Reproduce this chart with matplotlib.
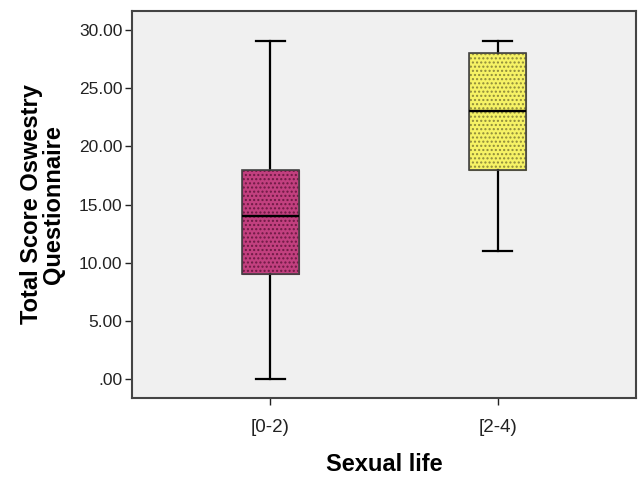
import matplotlib
matplotlib.use("Agg")
import matplotlib.pyplot as plt
from matplotlib.ticker import FuncFormatter

# box summaries
groups = ["[0-2)", "[2-4)"]
whislo = [0, 11]
q1 = [9, 18]
med = [14, 23]
q3 = [18, 28]
whishi = [29, 29]

face_colors = ["#C2407F", "#F6F265"]
dot_colors = ["#6E1A44", "#8E8A3A"]

stats = []
for i, g in enumerate(groups):
    stats.append({"label": g, "whislo": whislo[i], "q1": q1[i], "med": med[i],
                  "q3": q3[i], "whishi": whishi[i], "fliers": []})

plt.rcParams["font.family"] = ["Liberation Sans", "DejaVu Sans"]
fig = plt.figure(figsize=(6.41, 4.8), dpi=100)
ax = fig.add_axes([132 / 641, 1 - 398 / 480, 504 / 641, 387 / 480])
ax.set_facecolor("#F0F0F0")

pos = list(range(len(groups)))

# filled + dotted boxes
bp = ax.bxp(stats, positions=pos, widths=0.255, patch_artist=True, showfliers=False,
            boxprops=dict(linewidth=0.8),
            whiskerprops=dict(color="black", linewidth=1.6),
            capprops=dict(color="black", linewidth=1.6),
            medianprops=dict(color="black", linewidth=1.7),
            capwidths=0.13)
for box, fc, dc in zip(bp["boxes"], face_colors, dot_colors):
    box.set_facecolor(fc)
    box.set_edgecolor(dc)
    box.set_hatch("....")
    box.set_zorder(2)

# outline on top
for i in pos:
    ax.add_patch(plt.Rectangle((i - 0.1275, q1[i]), 0.255, q3[i] - q1[i],
                               fill=False, edgecolor="#444444", linewidth=1.2, zorder=3))
for m in bp["medians"]:
    m.set_zorder(4)

ax.set_xlim(-0.61, 1.61)
ax.set_ylim(-1.6, 31.6)
ax.set_yticks([0, 5, 10, 15, 20, 25, 30])
ax.yaxis.set_major_formatter(FuncFormatter(lambda v, p: ".00" if v == 0 else f"{v:.2f}"))
ax.set_xticks(pos)
ax.set_xticklabels(groups)
ax.tick_params(axis="both", labelsize=12.5, colors="#222222", length=5, width=1)
ax.tick_params(axis="x", pad=10, labelsize=13.5)
ax.tick_params(axis="y", pad=2)

for s in ax.spines.values():
    s.set_color("#444444")
    s.set_linewidth(1.5)

ax.set_xlabel("Sexual life", fontsize=17, fontweight="bold", labelpad=12)
ax.set_ylabel("Total Score Oswestry\nQuestionnaire", fontsize=17, fontweight="bold",
              labelpad=10, linespacing=0.95)

fig.savefig("out.png", dpi=100)
